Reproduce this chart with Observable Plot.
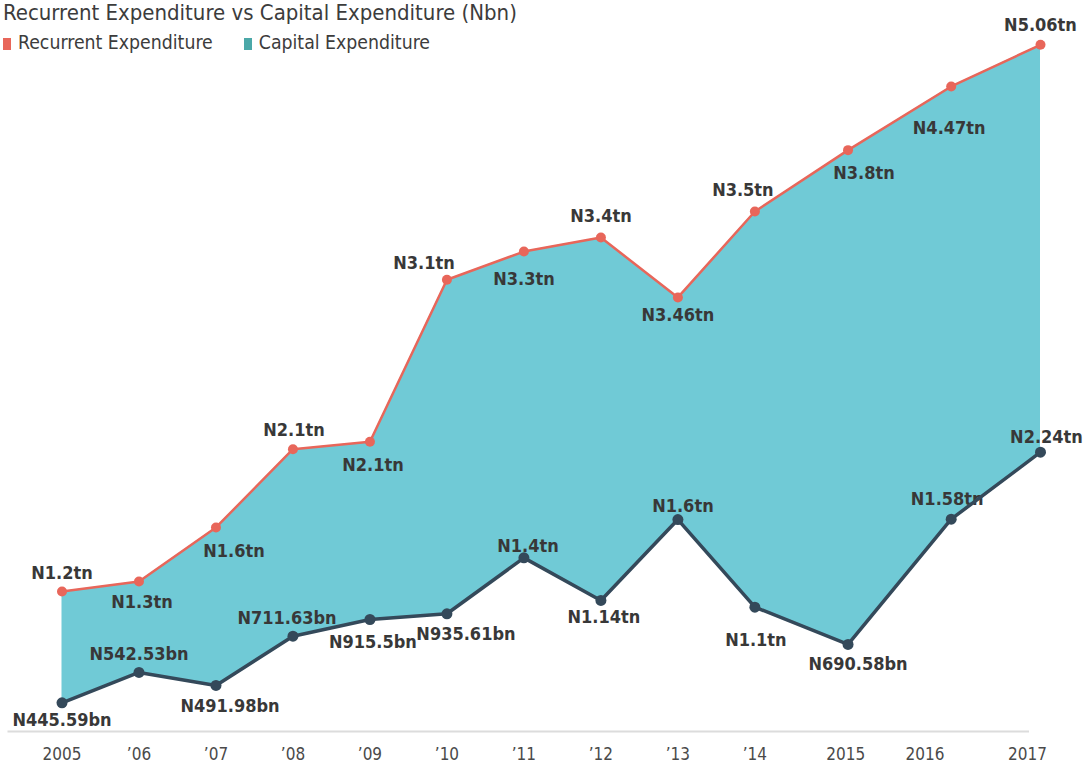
<!DOCTYPE html>
<html>
<head>
<meta charset="utf-8">
<script src="https://cdn.jsdelivr.net/npm/d3@7"></script>
<script src="https://cdn.jsdelivr.net/npm/@observablehq/plot@0.6"></script>
<style>
  html, body { margin: 0; padding: 0; background: #fff; }
  #wrap { position: relative; width: 1092px; height: 765px; overflow: hidden;
    font-family: "DejaVu Sans Condensed", "DejaVu Sans", sans-serif; font-stretch: condensed; }
  #chart { position: absolute; left: 0; top: 0; }
  .title { position: absolute; left: 3px; top: 0px; font-size: 22px; line-height: 25px; color: #3c3c3c; white-space: nowrap; }
  .legend { position: absolute; left: 3px; top: 32px; display: flex; align-items: center; font-size: 19.3px; line-height: 22px; color: #3c3c3c; white-space: nowrap; }
  .legend .sw { display: inline-block; width: 8px; height: 12px; margin-right: 7px; margin-top: 2px; }
  .legend .item { display: flex; align-items: center; margin-right: 31px; }
</style>
</head>
<body>
<div id="wrap">
  <div id="chart"></div>
  <div class="title">Recurrent Expenditure vs Capital Expenditure (Nbn)</div>
  <div class="legend" id="legend"></div>
</div>
<script>
// ---- data ----
const years = [2005, 2006, 2007, 2008, 2009, 2010, 2011, 2012, 2013, 2014, 2015, 2016, 2017];
// plotted position of each period on the time axis (decimal years)
const periodPos = [2005, 2006, 2007, 2008, 2009, 2010, 2011, 2012, 2013, 2014, 2015.21, 2016.55, 2017.71];
// plotted heights (Nbn)
const recurrent = [1031, 1105, 1503, 2079, 2134, 3327, 3535, 3638, 3197, 3830, 4282, 4751, 5058];
const capital = [211, 435, 339, 702, 825, 867, 1279, 965, 1561, 916, 641, 1564, 2057];
const recurrentLabels = ["N1.2tn", "N1.3tn", "N1.6tn", "N2.1tn", "N2.1tn", "N3.1tn", "N3.3tn", "N3.4tn", "N3.46tn", "N3.5tn", "N3.8tn", "N4.47tn", "N5.06tn"];
const capitalLabels = ["N445.59bn", "N542.53bn", "N491.98bn", "N711.63bn", "N915.5bn", "N935.61bn", "N1.4tn", "N1.14tn", "N1.6tn", "N1.1tn", "N690.58bn", "N1.58tn", "N2.24tn"];
const tickPos = [2005, 2006, 2007, 2008, 2009, 2010, 2011, 2012, 2013, 2014, 2015.18, 2016.21, 2017.54];
const tickLabels = ["2005", "\u201906", "\u201907", "\u201908", "\u201909", "\u201910", "\u201911", "\u201912", "\u201913", "\u201914", "2015", "2016", "2017"];
const seriesNames = ["Recurrent Expenditure", "Capital Expenditure"];

// ---- style / layout config ----
const colors = { recurrent: "#E8665A", capital: "#34495A", fill: "#70CAD6", legendCapital: "#4BA8A8", label: "#383838" };
const recurrentLabelOffsets = [[0,-18],[3,21],[18,24],[1,-19],[3,23],[-23,-17],[0,28],[0,-21],[0,18],[-12,-21],[16,23],[-2,42],[0,-20]];
const capitalLabelOffsets = [[0,17],[0,-18],[14,21],[-6,-18],[3,23],[19,20],[4,-12],[3,17],[5,-13],[1,33],[10,20],[-4,-20],[6,-15]];

const data = years.map((yr, i) => ({ year: yr, x: periodPos[i], rec: recurrent[i], cap: capital[i], recLabel: recurrentLabels[i], capLabel: capitalLabels[i] }));
const ticks = tickPos.map((p, i) => ({ pos: p, label: tickLabels[i] }));

const labelFont = { fontFamily: "'DejaVu Sans Condensed', 'DejaVu Sans', sans-serif", fontSize: 18, fontWeight: "bold", fill: colors.label };

const labelMarks = [];
data.forEach((d, i) => {
  labelMarks.push(Plot.text([d], { x: "x", y: "rec", text: "recLabel", dx: recurrentLabelOffsets[i][0], dy: recurrentLabelOffsets[i][1], ...labelFont }));
  labelMarks.push(Plot.text([d], { x: "x", y: "cap", text: "capLabel", dx: capitalLabelOffsets[i][0], dy: capitalLabelOffsets[i][1], ...labelFont }));
});

const chart = Plot.plot({
  width: 1092,
  height: 765,
  marginTop: 44,
  marginBottom: 34,
  marginLeft: 61.5,
  marginRight: 52,
  x: { type: "linear", domain: [periodPos[0], periodPos[periodPos.length - 1]], axis: null },
  y: { domain: [0, 5060], axis: null },
  style: { fontFamily: "'DejaVu Sans Condensed', 'DejaVu Sans', sans-serif", background: "transparent", overflow: "visible", fontStretch: "condensed" },
  marks: [
    Plot.areaY(data, { x: "x", y1: "cap", y2: "rec", fill: colors.fill }),
    Plot.ruleY([0], { stroke: "#dcdcdc", strokeWidth: 2, insetLeft: -54, insetRight: 11 }),
    Plot.text(ticks, { x: "pos", text: "label", frameAnchor: "bottom", lineAnchor: "middle", dy: 23, fontSize: 17, fontWeight: "normal", fill: "#4a4a4a" }),
    ...labelMarks,
    Plot.lineY(data, { x: "x", y: "rec", stroke: colors.recurrent, strokeWidth: 2.5 }),
    Plot.lineY(data, { x: "x", y: "cap", stroke: colors.capital, strokeWidth: 3.5 }),
    Plot.dot(data, { x: "x", y: "rec", r: 5, fill: colors.recurrent }),
    Plot.dot(data, { x: "x", y: "cap", r: 5.5, fill: colors.capital })
  ]
});
document.getElementById("chart").appendChild(chart);

const legend = document.getElementById("legend");
const legendColors = [colors.recurrent, colors.legendCapital];
seriesNames.forEach((name, i) => {
  const item = document.createElement("span");
  item.className = "item";
  const sw = document.createElement("span");
  sw.className = "sw";
  sw.style.background = legendColors[i];
  const t = document.createElement("span");
  t.textContent = name;
  item.appendChild(sw);
  item.appendChild(t);
  legend.appendChild(item);
});
</script>
</body>
</html>
